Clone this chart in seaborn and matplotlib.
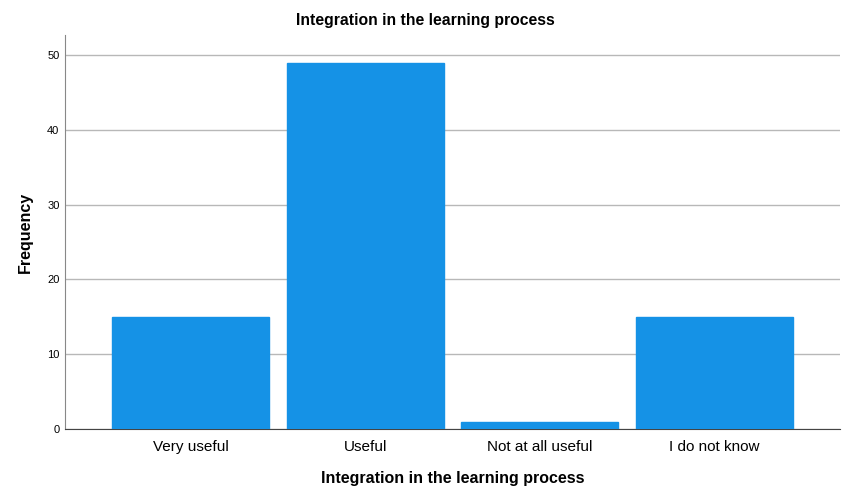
import seaborn as sns
import matplotlib.pyplot as plt
import pandas as pd

categories = ['Very useful', 'Useful', 'Not at all useful', 'I do not know']
frequency = [15, 49, 1, 15]

df = pd.DataFrame({'cat': categories, 'freq': frequency})

sns.set_style('white')
plt.rcParams['font.family'] = ['Liberation Sans', 'DejaVu Sans']
plt.rcParams['text.color'] = 'black'
plt.rcParams['axes.labelcolor'] = 'black'
plt.rcParams['xtick.color'] = 'black'
plt.rcParams['ytick.color'] = 'black'

fig = plt.figure(figsize=(8.5, 5), dpi=100)
ax = fig.add_axes([0.0765, 0.142, 0.9115, 0.788])

sns.barplot(ax=ax, data=df, x='cat', y='freq', color='#1592E6', width=0.9,
            saturation=1, edgecolor='#1592E6', zorder=3)

ax.set_xlim(-0.72, 3.72)
ax.set_ylim(0, 52.7)
ax.set_yticks([0, 10, 20, 30, 40, 50])
ax.yaxis.grid(True, color='#b8b8b8', linewidth=1, zorder=0)
ax.set_axisbelow(True)
ax.tick_params(axis='x', length=0, labelsize=11, pad=8)
ax.tick_params(axis='y', length=0, labelsize=8, pad=4)

for s in ['top', 'right']:
    ax.spines[s].set_visible(False)
ax.spines['left'].set_color('#888888')
ax.spines['bottom'].set_color('#444444')

fig.text(0.5, 1 - 21 / 500, 'Integration in the learning process', fontsize=11.3,
         fontweight='bold', ha='center', va='center')
ax.set_xlabel('Integration in the learning process', fontsize=11.5, fontweight='bold', labelpad=12)
ax.set_ylabel('Frequency', fontsize=11.5, fontweight='bold', labelpad=10)

plt.savefig('out.png', dpi=100)
